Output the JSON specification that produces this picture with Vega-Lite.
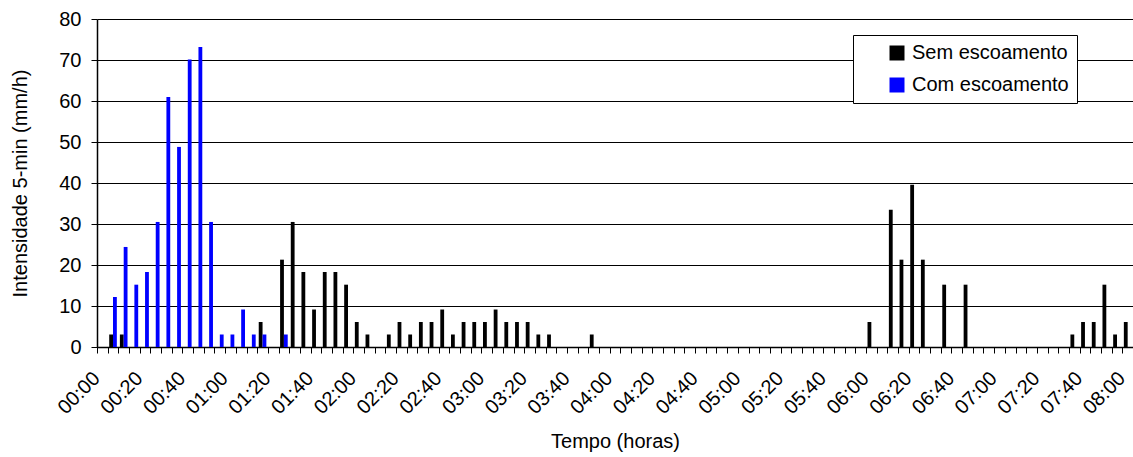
{
  "$schema": "https://vega.github.io/schema/vega-lite/v6.json",
  "width": 1036,
  "height": 328,
  "autosize": "none",
  "padding": {"left": 97, "top": 19, "right": 0, "bottom": 110},
  "background": "white",
  "config": {
    "font": "Liberation Sans",
    "view": {"stroke": null},
    "axis": {"labelColor": "black", "titleColor": "black", "titleFontWeight": "normal", "tickColor": "black", "domainColor": "black", "labelFontSize": 20, "titleFontSize": 20}
  },
  "data": {"values": [
    {"t": "00:00", "Sem escoamento": 0, "Com escoamento": 0},
    {"t": "00:05", "Sem escoamento": 3.05, "Com escoamento": 12.2},
    {"t": "00:10", "Sem escoamento": 3.05, "Com escoamento": 24.4},
    {"t": "00:15", "Sem escoamento": 0, "Com escoamento": 15.2},
    {"t": "00:20", "Sem escoamento": 0, "Com escoamento": 18.3},
    {"t": "00:25", "Sem escoamento": 0, "Com escoamento": 30.5},
    {"t": "00:30", "Sem escoamento": 0, "Com escoamento": 61},
    {"t": "00:35", "Sem escoamento": 0, "Com escoamento": 48.8},
    {"t": "00:40", "Sem escoamento": 0, "Com escoamento": 70.1},
    {"t": "00:45", "Sem escoamento": 0, "Com escoamento": 73.2},
    {"t": "00:50", "Sem escoamento": 0, "Com escoamento": 30.5},
    {"t": "00:55", "Sem escoamento": 0, "Com escoamento": 3.05},
    {"t": "01:00", "Sem escoamento": 0, "Com escoamento": 3.05},
    {"t": "01:05", "Sem escoamento": 0, "Com escoamento": 9.14},
    {"t": "01:10", "Sem escoamento": 0, "Com escoamento": 3.05},
    {"t": "01:15", "Sem escoamento": 6.1, "Com escoamento": 3.05},
    {"t": "01:20", "Sem escoamento": 0, "Com escoamento": 0},
    {"t": "01:25", "Sem escoamento": 21.3, "Com escoamento": 3.05},
    {"t": "01:30", "Sem escoamento": 30.5, "Com escoamento": 0},
    {"t": "01:35", "Sem escoamento": 18.3, "Com escoamento": 0},
    {"t": "01:40", "Sem escoamento": 9.14, "Com escoamento": 0},
    {"t": "01:45", "Sem escoamento": 18.3, "Com escoamento": 0},
    {"t": "01:50", "Sem escoamento": 18.3, "Com escoamento": 0},
    {"t": "01:55", "Sem escoamento": 15.2, "Com escoamento": 0},
    {"t": "02:00", "Sem escoamento": 6.1, "Com escoamento": 0},
    {"t": "02:05", "Sem escoamento": 3.05, "Com escoamento": 0},
    {"t": "02:10", "Sem escoamento": 0, "Com escoamento": 0},
    {"t": "02:15", "Sem escoamento": 3.05, "Com escoamento": 0},
    {"t": "02:20", "Sem escoamento": 6.1, "Com escoamento": 0},
    {"t": "02:25", "Sem escoamento": 3.05, "Com escoamento": 0},
    {"t": "02:30", "Sem escoamento": 6.1, "Com escoamento": 0},
    {"t": "02:35", "Sem escoamento": 6.1, "Com escoamento": 0},
    {"t": "02:40", "Sem escoamento": 9.14, "Com escoamento": 0},
    {"t": "02:45", "Sem escoamento": 3.05, "Com escoamento": 0},
    {"t": "02:50", "Sem escoamento": 6.1, "Com escoamento": 0},
    {"t": "02:55", "Sem escoamento": 6.1, "Com escoamento": 0},
    {"t": "03:00", "Sem escoamento": 6.1, "Com escoamento": 0},
    {"t": "03:05", "Sem escoamento": 9.14, "Com escoamento": 0},
    {"t": "03:10", "Sem escoamento": 6.1, "Com escoamento": 0},
    {"t": "03:15", "Sem escoamento": 6.1, "Com escoamento": 0},
    {"t": "03:20", "Sem escoamento": 6.1, "Com escoamento": 0},
    {"t": "03:25", "Sem escoamento": 3.05, "Com escoamento": 0},
    {"t": "03:30", "Sem escoamento": 3.05, "Com escoamento": 0},
    {"t": "03:35", "Sem escoamento": 0, "Com escoamento": 0},
    {"t": "03:40", "Sem escoamento": 0, "Com escoamento": 0},
    {"t": "03:45", "Sem escoamento": 0, "Com escoamento": 0},
    {"t": "03:50", "Sem escoamento": 3.05, "Com escoamento": 0},
    {"t": "03:55", "Sem escoamento": 0, "Com escoamento": 0},
    {"t": "04:00", "Sem escoamento": 0, "Com escoamento": 0},
    {"t": "04:05", "Sem escoamento": 0, "Com escoamento": 0},
    {"t": "04:10", "Sem escoamento": 0, "Com escoamento": 0},
    {"t": "04:15", "Sem escoamento": 0, "Com escoamento": 0},
    {"t": "04:20", "Sem escoamento": 0, "Com escoamento": 0},
    {"t": "04:25", "Sem escoamento": 0, "Com escoamento": 0},
    {"t": "04:30", "Sem escoamento": 0, "Com escoamento": 0},
    {"t": "04:35", "Sem escoamento": 0, "Com escoamento": 0},
    {"t": "04:40", "Sem escoamento": 0, "Com escoamento": 0},
    {"t": "04:45", "Sem escoamento": 0, "Com escoamento": 0},
    {"t": "04:50", "Sem escoamento": 0, "Com escoamento": 0},
    {"t": "04:55", "Sem escoamento": 0, "Com escoamento": 0},
    {"t": "05:00", "Sem escoamento": 0, "Com escoamento": 0},
    {"t": "05:05", "Sem escoamento": 0, "Com escoamento": 0},
    {"t": "05:10", "Sem escoamento": 0, "Com escoamento": 0},
    {"t": "05:15", "Sem escoamento": 0, "Com escoamento": 0},
    {"t": "05:20", "Sem escoamento": 0, "Com escoamento": 0},
    {"t": "05:25", "Sem escoamento": 0, "Com escoamento": 0},
    {"t": "05:30", "Sem escoamento": 0, "Com escoamento": 0},
    {"t": "05:35", "Sem escoamento": 0, "Com escoamento": 0},
    {"t": "05:40", "Sem escoamento": 0, "Com escoamento": 0},
    {"t": "05:45", "Sem escoamento": 0, "Com escoamento": 0},
    {"t": "05:50", "Sem escoamento": 0, "Com escoamento": 0},
    {"t": "05:55", "Sem escoamento": 0, "Com escoamento": 0},
    {"t": "06:00", "Sem escoamento": 6.1, "Com escoamento": 0},
    {"t": "06:05", "Sem escoamento": 0, "Com escoamento": 0},
    {"t": "06:10", "Sem escoamento": 33.5, "Com escoamento": 0},
    {"t": "06:15", "Sem escoamento": 21.3, "Com escoamento": 0},
    {"t": "06:20", "Sem escoamento": 39.6, "Com escoamento": 0},
    {"t": "06:25", "Sem escoamento": 21.3, "Com escoamento": 0},
    {"t": "06:30", "Sem escoamento": 0, "Com escoamento": 0},
    {"t": "06:35", "Sem escoamento": 15.2, "Com escoamento": 0},
    {"t": "06:40", "Sem escoamento": 0, "Com escoamento": 0},
    {"t": "06:45", "Sem escoamento": 15.2, "Com escoamento": 0},
    {"t": "06:50", "Sem escoamento": 0, "Com escoamento": 0},
    {"t": "06:55", "Sem escoamento": 0, "Com escoamento": 0},
    {"t": "07:00", "Sem escoamento": 0, "Com escoamento": 0},
    {"t": "07:05", "Sem escoamento": 0, "Com escoamento": 0},
    {"t": "07:10", "Sem escoamento": 0, "Com escoamento": 0},
    {"t": "07:15", "Sem escoamento": 0, "Com escoamento": 0},
    {"t": "07:20", "Sem escoamento": 0, "Com escoamento": 0},
    {"t": "07:25", "Sem escoamento": 0, "Com escoamento": 0},
    {"t": "07:30", "Sem escoamento": 0, "Com escoamento": 0},
    {"t": "07:35", "Sem escoamento": 3.05, "Com escoamento": 0},
    {"t": "07:40", "Sem escoamento": 6.1, "Com escoamento": 0},
    {"t": "07:45", "Sem escoamento": 6.1, "Com escoamento": 0},
    {"t": "07:50", "Sem escoamento": 15.2, "Com escoamento": 0},
    {"t": "07:55", "Sem escoamento": 3.05, "Com escoamento": 0},
    {"t": "08:00", "Sem escoamento": 6.1, "Com escoamento": 0}
  ]},
  "transform": [{"fold": ["Sem escoamento", "Com escoamento"], "as": ["serie", "valor"]}],
  "mark": {"type": "bar"},
  "encoding": {
    "x": {
      "field": "t", "type": "nominal", "sort": null,
      "scale": {"paddingInner": 0, "paddingOuter": 0},
      "axis": {
        "title": "Tempo (horas)",
        "labelAngle": -45, "labelAlign": "right", "labelBaseline": "middle",
        "labelExpr": "indexof(['00','20','40'], substring(datum.label, 3, 5)) >= 0 ? datum.label : ''",
        "labelOverlap": false, "tickBand": "extent", "tickSize": 6,
        "labelPadding": 22, "labelOffset": -6, "titlePadding": 14,
        "domainWidth": 1.5, "grid": false
      }
    },
    "xOffset": {
      "field": "serie", "sort": ["Sem escoamento", "Com escoamento"],
      "scale": {"paddingInner": 0, "paddingOuter": 0.4}
    },
    "y": {
      "field": "valor", "type": "quantitative",
      "scale": {"domain": [0, 80], "nice": false},
      "axis": {
        "title": "Intensidade 5-min (mm/h)",
        "values": [0, 10, 20, 30, 40, 50, 60, 70, 80],
        "grid": true, "gridColor": "black", "gridOpacity": 1, "gridWidth": 1.2,
        "tickSize": 6, "labelPadding": 10, "titlePadding": 28, "domainWidth": 1.5
      }
    },
    "color": {
      "field": "serie", "type": "nominal",
      "scale": {"domain": ["Sem escoamento", "Com escoamento"], "range": ["#000000", "#0000ff"]},
      "legend": {
        "title": null, "orient": "none", "legendX": 756, "legendY": 16,
        "strokeColor": "black", "fillColor": "white",
        "padding": 8, "symbolType": "square", "symbolSize": 225, "symbolStrokeWidth": 0,
        "symbolOffset": 26, "labelFontSize": 20, "labelOffset": 5, "rowPadding": 12,
        "labelColor": "black"
      }
    }
  }
}
